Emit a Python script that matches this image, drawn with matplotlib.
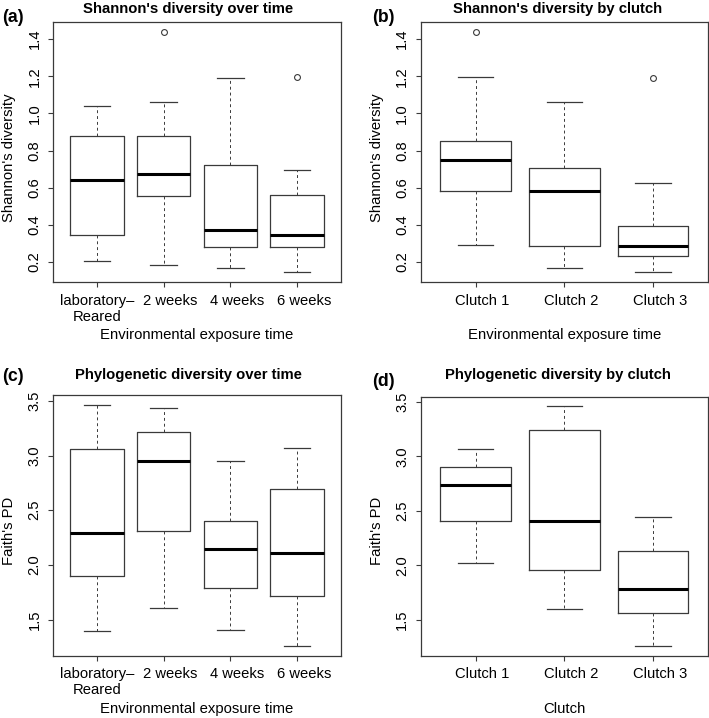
import matplotlib
matplotlib.use('Agg')
import matplotlib.pyplot as plt
import matplotlib.transforms as mtransforms

plt.rcParams['font.family'] = ['Liberation Sans', 'DejaVu Sans']

time_groups = ['laboratory–\nReared', '2 weeks', '4 weeks', '6 weeks']
clutch_groups = ['Clutch 1', 'Clutch 2', 'Clutch 3']

# (a) Shannon's diversity over time
sh_time_whislo = [0.203, 0.185, 0.168, 0.144]
sh_time_q1 = [0.346, 0.553, 0.281, 0.281]
sh_time_med = [0.641, 0.675, 0.371, 0.344]
sh_time_q3 = [0.876, 0.876, 0.722, 0.563]
sh_time_whishi = [1.040, 1.060, 1.188, 0.695]
sh_time_out = [[], [1.44], [], [1.195]]

# (b) Shannon's diversity by clutch
sh_clutch_whislo = [0.293, 0.169, 0.144]
sh_clutch_q1 = [0.583, 0.284, 0.234]
sh_clutch_med = [0.749, 0.581, 0.284]
sh_clutch_q3 = [0.849, 0.704, 0.391]
sh_clutch_whishi = [1.195, 1.060, 0.626]
sh_clutch_out = [[1.44], [], [1.188]]

# (c) Faith's PD over time
pd_time_whislo = [1.396, 1.604, 1.405, 1.258]
pd_time_q1 = [1.901, 2.309, 1.788, 1.720]
pd_time_med = [2.290, 2.952, 2.149, 2.106]
pd_time_q3 = [3.056, 3.218, 2.400, 2.691]
pd_time_whishi = [3.463, 3.433, 2.952, 3.071]
pd_time_out = [[], [], [], []]

# (d) Faith's PD by clutch
pd_clutch_whislo = [2.021, 1.595, 1.258]
pd_clutch_q1 = [2.410, 1.956, 1.564]
pd_clutch_med = [2.734, 2.404, 1.785]
pd_clutch_q3 = [2.903, 3.240, 2.134]
pd_clutch_whishi = [3.071, 3.463, 2.440]
pd_clutch_out = [[], [], []]

shannon_ticks = [0.2, 0.4, 0.6, 0.8, 1.0, 1.2, 1.4]
pd_ticks = [1.5, 2.0, 2.5, 3.0, 3.5]

W, H = 709, 718
edge = '#3a3a3a'


def px_rect(left, top, right, bottom):
    return [left / W, (H - bottom) / H, (right - left) / W, (bottom - top) / H]


def draw_panel(ax, labels, whislo, q1, med, q3, whishi, fliers, yticks, ylabel, xlabel):
    n = len(labels)
    stats = []
    for i in range(n):
        stats.append(dict(label=labels[i], whislo=whislo[i], q1=q1[i], med=med[i],
                          q3=q3[i], whishi=whishi[i], fliers=fliers[i]))
    ax.bxp(stats, positions=list(range(1, n + 1)), widths=0.8, capwidths=0.4,
           boxprops=dict(color=edge, lw=0.9),
           medianprops=dict(color='black', lw=2.2, solid_capstyle='butt'),
           whiskerprops=dict(color=edge, lw=0.7, linestyle=(0, (3, 3))),
           capprops=dict(color=edge, lw=0.9),
           flierprops=dict(marker='o', mfc='none', mec=edge, ms=4.2, mew=0.8))
    # R style axis limits: 4% extension of data range
    allv = whislo + whishi + [v for f in fliers for v in f]
    lo, hi = min(allv), max(allv)
    pad = (hi - lo) * 0.04
    ax.set_ylim(lo - pad, hi + pad)
    ax.set_xlim(0.5 - 0.04 * n, n + 0.5 + 0.04 * n)
    ax.set_yticks(yticks)
    ax.set_yticklabels(['%.1f' % t for t in yticks], rotation=90, va='center')
    ax.tick_params(axis='both', length=3.8, width=0.8, color=edge, labelsize=10.6)
    ax.tick_params(axis='x', pad=4.5)
    ax.tick_params(axis='y', pad=4.5)
    # single-line category labels sit a little right of their ticks in the original
    shift = mtransforms.ScaledTranslation(7 / 100, 0, fig.dpi_scale_trans)
    for lab in ax.get_xticklabels():
        if '\n' not in lab.get_text():
            lab.set_transform(lab.get_transform() + shift)
    for s in ax.spines.values():
        s.set_color(edge)
        s.set_linewidth(0.9)
    ax.set_xlabel(xlabel, fontsize=10.7)
    ax.xaxis.label.set_va('center')
    ax.xaxis.set_label_coords(0.5, -0.204)
    ax.set_ylabel(ylabel, fontsize=10.7)
    ax.yaxis.label.set_va('center')
    ax.yaxis.set_label_coords(-0.152, 0.48)


fig = plt.figure(figsize=(W / 100, H / 100), dpi=100)

ax_a = fig.add_axes(px_rect(53, 22, 341, 282))
ax_b = fig.add_axes(px_rect(420.7, 22, 708, 282))
ax_c = fig.add_axes(px_rect(53, 395.3, 341, 655.7))
ax_d = fig.add_axes(px_rect(420.7, 396.5, 708, 655.7))

draw_panel(ax_a, time_groups, sh_time_whislo, sh_time_q1, sh_time_med, sh_time_q3,
           sh_time_whishi, sh_time_out, shannon_ticks, "Shannon's diversity",
           'Environmental exposure time')
draw_panel(ax_b, clutch_groups, sh_clutch_whislo, sh_clutch_q1, sh_clutch_med, sh_clutch_q3,
           sh_clutch_whishi, sh_clutch_out, shannon_ticks, "Shannon's diversity",
           'Environmental exposure time')
draw_panel(ax_c, time_groups, pd_time_whislo, pd_time_q1, pd_time_med, pd_time_q3,
           pd_time_whishi, pd_time_out, pd_ticks, "Faith's PD",
           'Environmental exposure time')
draw_panel(ax_d, clutch_groups, pd_clutch_whislo, pd_clutch_q1, pd_clutch_med, pd_clutch_q3,
           pd_clutch_whishi, pd_clutch_out, pd_ticks, "Faith's PD", 'Clutch')

# titles and panel letters
titles = [("Shannon's diversity over time", 188, 8.5),
          ("Shannon's diversity by clutch", 558, 8.5),
          ("Phylogenetic diversity over time", 188, 375.5),
          ("Phylogenetic diversity by clutch", 558, 375.5)]
for t, x, y in titles:
    fig.text(x / W, 1 - y / H, t, ha='center', va='center', fontsize=10.7, fontweight='bold')

letters = [('(a)', 13, 17), ('(b)', 383, 17), ('(c)', 13, 376.5), ('(d)', 383, 382)]
for t, x, y in letters:
    fig.text(x / W, 1 - y / H, t, ha='center', va='center', fontsize=12.7, fontweight='bold')

fig.savefig('out.png', dpi=100)
